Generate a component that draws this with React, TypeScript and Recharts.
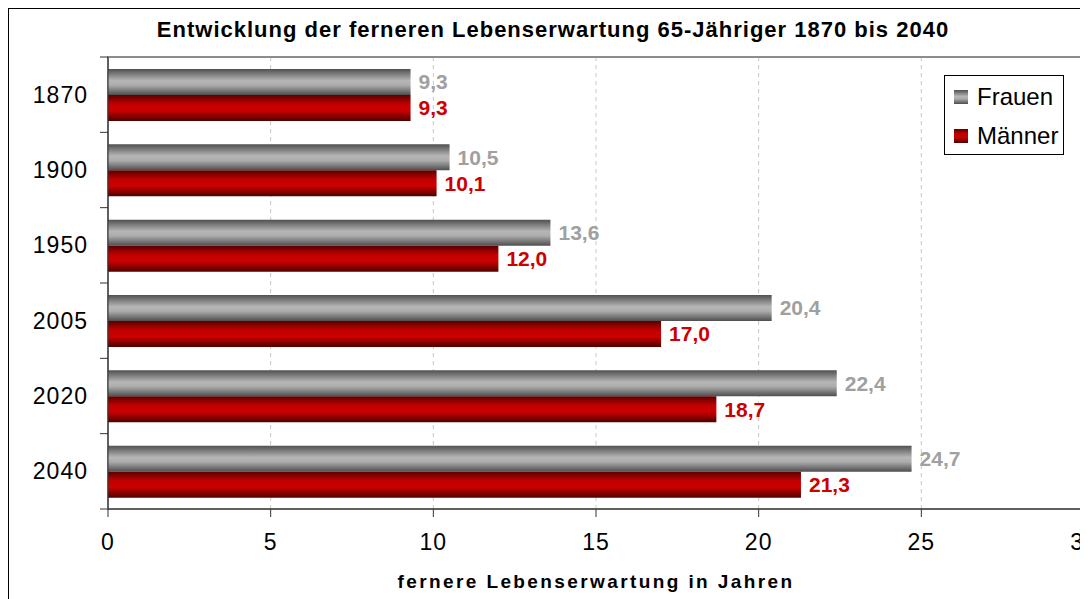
import { BarChart, Bar, XAxis, YAxis, CartesianGrid, ReferenceArea, LabelList } from "recharts";

const years = ["1870", "1900", "1950", "2005", "2020", "2040"];
const frauen = [9.3, 10.5, 13.6, 20.4, 22.4, 24.7];
const maenner = [9.3, 10.1, 12.0, 17.0, 18.7, 21.3];
const xTicks = [0, 5, 10, 15, 20, 25, 30];
const seriesNames = ["Frauen", "Männer"];

const FONT = "Arial, 'Liberation Sans', sans-serif";
const PLOT_H = 452;

const data = years.map((y, i) => ({ year: y, frauen: frauen[i], maenner: maenner[i] }));

const fmt = (v: any) => Number(v).toFixed(1).replace(".", ",");

function YTick(props: any) {
  const { x, y, payload, index } = props;
  const band = PLOT_H / years.length;
  const x1 = x + 12;
  const x2 = x + 20;
  return (
    <g>
      <line x1={x1} x2={x2} y1={y - band / 2} y2={y - band / 2} stroke="#333" />
      {index === years.length - 1 && (
        <line x1={x1} x2={x2} y1={y + band / 2} y2={y + band / 2} stroke="#333" />
      )}
      <text
        x={x}
        y={y}
        dy="0.35em"
        textAnchor="end"
        fontSize={23}
        letterSpacing={1}
        fill="#000"
        fontFamily={FONT}
      >
        {payload.value}
      </text>
    </g>
  );
}

export default function App() {
  return (
    <div
      style={{
        position: "relative",
        width: 1100,
        height: 600,
        borderLeft: "1px solid #000",
        borderTop: "1px solid #000",
        fontFamily: FONT,
      }}
    >
      <style>{`body{overflow:hidden}`}</style>
      <div
        style={{
          position: "absolute",
          top: 8,
          left: 0,
          width: 1088,
          textAlign: "center",
          fontWeight: "bold",
          fontSize: 22,
          letterSpacing: 1,
          lineHeight: "26px",
        }}
      >
        Entwicklung der ferneren Lebenserwartung 65-Jähriger 1870 bis 2040
      </div>
      <BarChart
        width={1090}
        height={590}
        data={data}
        layout="vertical"
        margin={{ top: 48, right: 15, left: 0, bottom: 50 }}
        barGap={0}
      >
        <defs>
          <linearGradient id="gFrauen" x1="0" y1="0" x2="0" y2="1">
            <stop offset="0%" stopColor="#505050" />
            <stop offset="45%" stopColor="#b6b6b6" />
            <stop offset="62%" stopColor="#adadad" />
            <stop offset="100%" stopColor="#4e4e4e" />
          </linearGradient>
          <linearGradient id="gMaenner" x1="0" y1="0" x2="0" y2="1">
            <stop offset="0%" stopColor="#5a0000" />
            <stop offset="35%" stopColor="#c20000" />
            <stop offset="60%" stopColor="#cc0000" />
            <stop offset="100%" stopColor="#4e0000" />
          </linearGradient>
        </defs>
        <CartesianGrid horizontal={false} strokeDasharray="4 4" stroke="#c8c8c8" />
        <ReferenceArea x1={0} x2={30} fill="none" stroke="#8c8c8c" strokeWidth={2} />
        <XAxis
          type="number"
          domain={[0, 30]}
          ticks={xTicks}
          height={40}
          tickSize={8}
          tickMargin={17}
          stroke="#333"
          tick={{ fontSize: 23, fill: "#000", fontFamily: FONT, letterSpacing: 1 }}
        />
        <YAxis
          type="category"
          dataKey="year"
          width={99}
          tickLine={false}
          tickSize={8}
          tickMargin={12}
          stroke="#333"
          tick={<YTick />}
        />
        <Bar dataKey="frauen" fill="url(#gFrauen)" barSize={26} isAnimationActive={false}>
          <LabelList
            dataKey="frauen"
            position="right"
            offset={8}
            formatter={fmt}
            fill="#a0a0a0"
            fontSize={21}
            fontWeight="bold"
            fontFamily={FONT}
          />
        </Bar>
        <Bar dataKey="maenner" fill="url(#gMaenner)" barSize={26} isAnimationActive={false}>
          <LabelList
            dataKey="maenner"
            position="right"
            offset={8}
            formatter={fmt}
            fill="#cc0000"
            fontSize={21}
            fontWeight="bold"
            fontFamily={FONT}
          />
        </Bar>
      </BarChart>
      <div
        style={{
          position: "absolute",
          left: 935,
          top: 66,
          width: 118,
          height: 78,
          border: "1px solid #000",
          background: "#fff",
          fontSize: 24,
        }}
      >
        {seriesNames.map((name, i) => (
          <div
            key={name}
            style={{ position: "absolute", left: 9, top: i === 0 ? 7 : 46, display: "flex", alignItems: "center" }}
          >
            <span
              style={{
                display: "inline-block",
                width: 14,
                height: 14,
                marginRight: 9,
                background:
                  i === 0
                    ? "linear-gradient(#505050, #b6b6b6 45%, #adadad 62%, #4e4e4e)"
                    : "linear-gradient(#5a0000, #c20000 35%, #cc0000 60%, #4e0000)",
              }}
            />
            <span style={{ lineHeight: "28px" }}>{name}</span>
          </div>
        ))}
      </div>
      <div
        style={{
          position: "absolute",
          top: 561,
          left: 99,
          width: 976,
          textAlign: "center",
          fontWeight: "bold",
          fontSize: 19,
          letterSpacing: 2.4,
          lineHeight: "24px",
        }}
      >
        fernere Lebenserwartung in Jahren
      </div>
    </div>
  );
}
